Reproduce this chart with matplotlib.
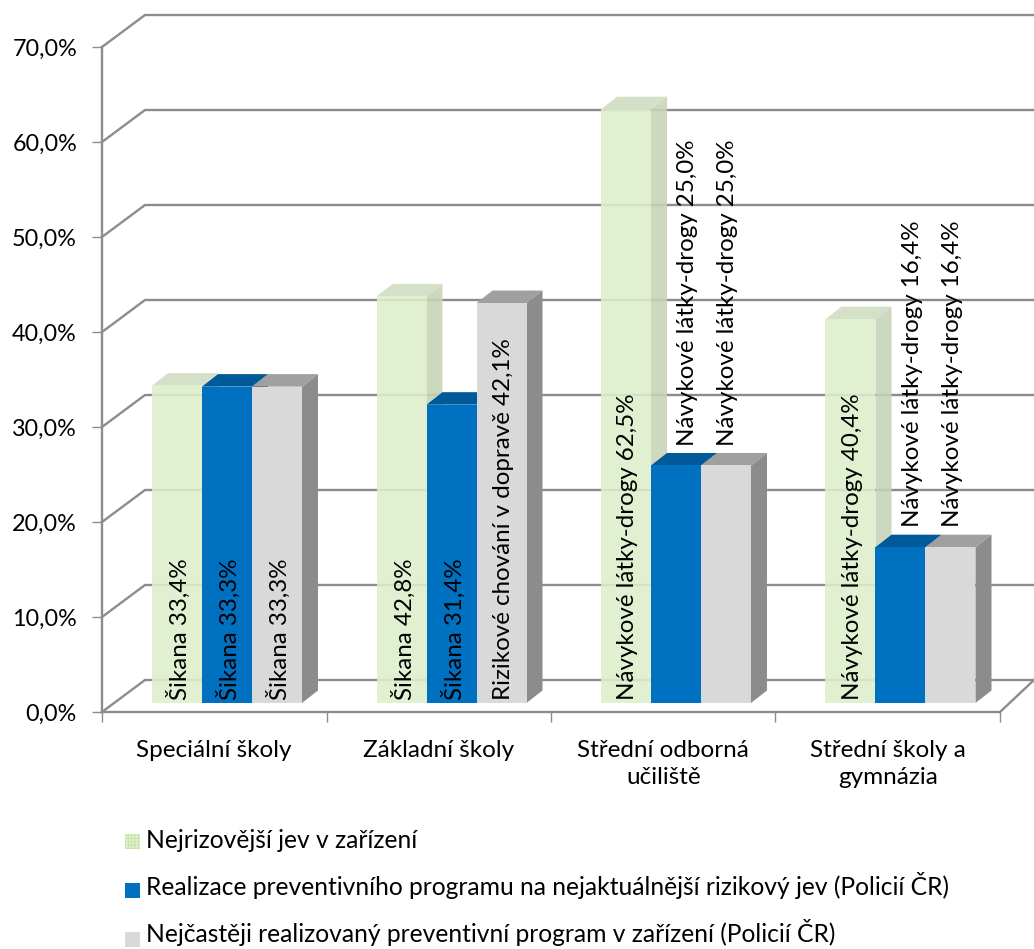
import matplotlib
matplotlib.use('Agg')
import matplotlib.pyplot as plt
from matplotlib.patches import Polygon, Rectangle

plt.rcParams['font.family'] = ['Lato', 'DejaVu Sans']
plt.rcParams['hatch.linewidth'] = 0.6

categories = ['Speciální školy', 'Základní školy', 'Střední odborná\nučiliště', 'Střední školy a\ngymnázia']
series_names = ['Nejrizovější jev v zařízení',
                'Realizace preventivního programu na nejaktuálnější rizikový jev (Policií ČR)',
                'Nejčastěji realizovaný preventivní program v zařízení (Policií ČR)']
nejriz = [33.4, 42.8, 62.5, 40.4]
realizace = [33.3, 31.4, 25.0, 16.4]
nejcasteji = [33.3, 42.1, 25.0, 16.4]
labels_nejriz = ['Šikana 33,4%', 'Šikana 42,8%', 'Návykové látky-drogy 62,5%', 'Návykové látky-drogy 40,4%']
labels_realizace = ['Šikana 33,3%', 'Šikana 31,4%', 'Návykové látky-drogy 25,0%', 'Návykové látky-drogy 16,4%']
labels_nejcasteji = ['Šikana 33,3%', 'Rizikové chování v dopravě 42,1%', 'Návykové látky-drogy 25,0%', 'Návykové látky-drogy 16,4%']
yticks = [0, 10, 20, 30, 40, 50, 60, 70]

W, H = 1034, 949
GRID = '#8c8c8c'
# 3d look, in data units: 224.5 px per category, 9.5 px per percent
wall_dx, wall_dy = 43 / 224.5, 32 / 9.5
bar_dx, bar_dy = 16 / 224.5, 12.5 / 9.5
base = 0.95
bar_w = 50 / 224.5
group_start = 50 / 224.5

fig = plt.figure(figsize=(W / 100, H / 100), dpi=100)
ax = fig.add_axes([102 / W, 1 - 712 / H, 898 / W, 665 / H])
ax.set_xlim(0, 4)
ax.set_ylim(0, 70)
ax.patch.set_visible(False)
for s in ['top', 'right']:
    ax.spines[s].set_visible(False)
for s in ['left', 'bottom']:
    ax.spines[s].set_color(GRID)
    ax.spines[s].set_linewidth(1.7)

right_end = 4 + 34 / 224.5
for v in yticks:
    ax.plot([0, wall_dx, right_end], [v, v + wall_dy, v + wall_dy], color=GRID, lw=1.7,
            clip_on=False, zorder=1, solid_joinstyle='miter')
ax.plot([4, right_end], [0, wall_dy], color=GRID, lw=1.7, clip_on=False, zorder=1)

ax.set_yticks(yticks)
ax.set_yticklabels([('%.1f%%' % v).replace('.', ',') for v in yticks])
ax.set_xticks(range(5))
ax.set_xticklabels([])
ax.tick_params(axis='both', color=GRID, width=1, length=7, labelsize=16.8, labelcolor='black', pad=11)

for i, c in enumerate(categories):
    ax.text(i + 0.5, -2.9, c, ha='center', va='top', fontsize=17.5, linespacing=1.4, clip_on=False)

styles = [('#ddefcb', '#c6d4b6', '#cfdcc0', 0.88), ('#0070c0', '#005a9a', '#005a9a', 1), ('#d9d9d9', '#8c8c8c', '#a0a0a0', 1)]
all_vals = [nejriz, realizace, nejcasteji]
all_labels = [labels_nejriz, labels_realizace, labels_nejcasteji]

zo = 3
for i in range(4):
    for j in range(3):
        v = all_vals[j][i]
        front, side, top, alpha = styles[j]
        x0 = i + group_start + j * bar_w
        x1 = x0 + bar_w
        y1 = base + v
        ax.add_patch(Polygon([(x1, base), (x1 + bar_dx, base + bar_dy), (x1 + bar_dx, y1 + bar_dy), (x1, y1)],
                             fc=side, ec='none', alpha=alpha, zorder=zo, clip_on=False))
        ax.add_patch(Polygon([(x0, y1), (x1, y1), (x1 + bar_dx, y1 + bar_dy), (x0 + bar_dx, y1 + bar_dy)],
                             fc=top, ec='none', alpha=alpha, zorder=zo, clip_on=False))
        ax.bar(x0, v, bar_w, bottom=base, align='edge', color=front, alpha=alpha, zorder=zo + 0.5)
        zo += 1

# data labels sit on top of everything
for i in range(4):
    for j in range(3):
        v = all_vals[j][i]
        xc = i + group_start + (j + 0.5) * bar_w + 2 / 224.5
        if v < 30:
            ly = base + v + 2.1
        else:
            ly = base + 0.3
        # short blue bars push their label away from the green bar
        if j == 1 and v < 30:
            xc += 10 / 224.5
        ax.text(xc, ly, all_labels[j][i], rotation=90, ha='center', va='bottom', fontsize=17.4,
                color='black', zorder=50, clip_on=False)

swatches = [('#e2f1d2', '#c4e2a4', '+++++'), ('#0070c0', 'none', None), ('#d9d9d9', 'none', None)]
for k, name in enumerate(series_names):
    ypix = 841.5 + k * 48.75
    fc, ec, hatch = swatches[k]
    fig.add_artist(Rectangle((125 / W, 1 - (ypix + 7.5) / H), 15 / W, 15 / H, fc=fc, ec=ec, lw=0, hatch=hatch,
                             transform=fig.transFigure))
    # baselines, the last line sits right at the bottom edge of the picture
    fig.text(146 / W, 1 - (847.5 + k * 47.5) / H, name, ha='left', va='baseline', fontsize=17.7, color='black')

fig.savefig('out.png', dpi=100)
